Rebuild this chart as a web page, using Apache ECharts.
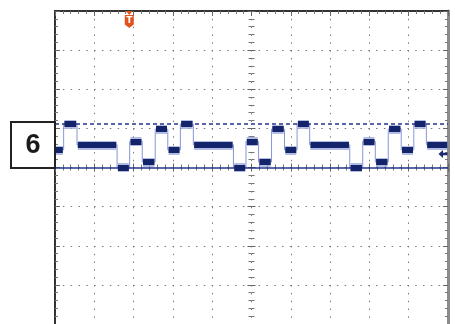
<!DOCTYPE html>
<html>
<head>
<meta charset="utf-8">
<script src="https://cdn.jsdelivr.net/npm/echarts@6/dist/echarts.min.js"></script>
<style>
  html, body { margin: 0; padding: 0; background: #fff; }
  #main { width: 455px; height: 324px; }
</style>
</head>
<body>
<div id="main"></div>
<script>
        // screen is 10 x 8 divisions, centre = 0,0
        var edgeTimes = [-5, -4.78, -4.44, -3.42, -3.10, -2.78, -2.45, -2.13, -1.81, -1.48,
                         -0.46, -0.14, 0.18, 0.51, 0.84, 1.16, 1.48, 2.50, 2.83, 3.15,
                         3.48, 3.81, 4.13, 4.45];
        var levels    = [0.45, 1.11, 0.58, 0.0, 0.67, 0.14, 0.98, 0.45, 1.11, 0.58,
                         0.0, 0.67, 0.14, 0.98, 0.45, 1.11, 0.58, 0.0, 0.67, 0.14,
                         0.98, 0.45, 1.11, 0.58];
        var endTime = 5;
        var cursorLevels = [0.0, 1.11];     // solid, dashed
        var triggerTime = -3.11;
        var groundLevel = 0.345;
        var channelLabel = '6';

        var stepData = [];
        var segData = [];
        for (var i = 0; i < edgeTimes.length; i++) {
            var t2 = (i + 1 < edgeTimes.length) ? edgeTimes[i + 1] : endTime;
            stepData.push([edgeTimes[i], levels[i]]);
            segData.push({coords: [[edgeTimes[i] + 0.02, levels[i]], [t2 - 0.02, levels[i]]]});
        }
        stepData.push([endTime, levels[levels.length - 1]]);

        var dotted = {color: '#7a7a7a', width: 1, type: [1.5, 6.33]};

        function edgeAxis(pos, lineColor, lineWidth) {
            return {
                type: 'value', position: pos, min: -5, max: 5, interval: 1,
                axisLine: {show: true, onZero: false, lineStyle: {color: lineColor, width: lineWidth}},
                axisTick: {show: true, inside: true, length: 5, lineStyle: {color: '#666'}},
                minorTick: {show: true, splitNumber: 5, length: 3, lineStyle: {color: '#777'}},
                axisLabel: {show: false},
                splitLine: {show: false}
            };
        }
        function centreAxis(inside) {
            return {
                type: 'value', min: -5, max: 5, interval: 1,
                axisLine: {show: false, onZero: true, onZeroAxisIndex: 0},
                axisTick: {show: true, inside: inside, length: 4, lineStyle: {color: '#666'}},
                minorTick: {show: true, splitNumber: 5, length: 3, lineStyle: {color: '#777'}},
                axisLabel: {show: false},
                splitLine: {show: false}
            };
        }

        var xBottom = edgeAxis('bottom', '#333', 2);
        xBottom.axisLine.show = false;
        xBottom.axisTick.show = false;
        xBottom.minorTick.show = false;
        xBottom.splitLine = {show: true, lineStyle: dotted};
        var yLeft = edgeAxis('left', '#333', 2);
        yLeft.min = -4; yLeft.max = 4;
        yLeft.splitLine = {show: true, lineStyle: dotted};
        var yRight = edgeAxis('right', '#8c8c8c', 3);
        yRight.min = -4; yRight.max = 4;
        var yC1 = centreAxis(true); yC1.min = -4; yC1.max = 4;
        var yC2 = centreAxis(false); yC2.min = -4; yC2.max = 4;

        var option = {
            backgroundColor: '#fff',
            animation: false,
            grid: {left: 55, right: 7, top: 11, bottom: 0, containLabel: false},
            xAxis: [xBottom, edgeAxis('top', '#333', 2), centreAxis(true), centreAxis(false)],
            yAxis: [yLeft, yRight, yC1, yC2],
            graphic: [
                {type: 'rect', shape: {x: 11, y: 122, width: 44, height: 46},
                 style: {fill: '#fff', stroke: '#222', lineWidth: 2}, z: 10},
                {type: 'text', x: 33, y: 146,
                 style: {text: channelLabel, fill: '#1a1a1a', font: 'bold 27px "Liberation Sans", Arial',
                         align: 'center', verticalAlign: 'middle'}, z: 11}
            ],
            series: [
                {
                    type: 'line', step: 'end', data: stepData, symbol: 'none',
                    lineStyle: {color: '#8796d6', width: 1},
                    markLine: {
                        silent: true, symbol: 'none', label: {show: false},
                        data: [
                            {yAxis: cursorLevels[0], lineStyle: {color: '#24358c', width: 1.5, type: 'solid'}},
                            {yAxis: cursorLevels[1], lineStyle: {color: '#24358c', width: 1.5, type: [4, 3]}}
                        ]
                    },
                    markPoint: {
                        silent: true,
                        data: [
                            {coord: [triggerTime, 4], symbol: 'triangle', symbolRotate: 180,
                             symbolSize: [7, 4], symbolOffset: [0, 2],
                             itemStyle: {color: '#e2521d'}, label: {show: false}},
                            {coord: [triggerTime, 4],
                             symbol: 'path://M1,0 L9,0 Q10,0 10,1 L10,11 L5,15 L0,11 L0,1 Q0,0 1,0 Z',
                             symbolSize: [9, 13], symbolOffset: [0, 10.5],
                             itemStyle: {color: '#e2521d'},
                             label: {show: true, formatter: 'T', color: '#fff', fontSize: 9, fontWeight: 'bold',
                                     fontFamily: 'DejaVu Sans', position: 'inside', offset: [0, -1]}},
                            {coord: [endTime, groundLevel],
                             symbol: 'path://M0,5 L5,0 L5,3.5 L10,3.5 L10,6.5 L5,6.5 L5,10 Z',
                             symbolSize: [9, 8], symbolOffset: [-5, 0],
                             itemStyle: {color: '#1a2a6e'}, label: {show: false}}
                        ]
                    },
                    z: 3
                },
                {
                    type: 'lines', coordinateSystem: 'cartesian2d', polyline: false, silent: true,
                    data: segData,
                    lineStyle: {color: '#9aa6dc', width: 9, opacity: 0.75},
                    z: 4
                },
                {
                    type: 'lines', coordinateSystem: 'cartesian2d', polyline: false, silent: true,
                    data: segData,
                    lineStyle: {color: '#14246a', width: 6, opacity: 1},
                    z: 5
                }
            ]
        };

        var myChart = echarts.init(document.getElementById('main'));
        myChart.setOption(option);
</script>
</body>
</html>
